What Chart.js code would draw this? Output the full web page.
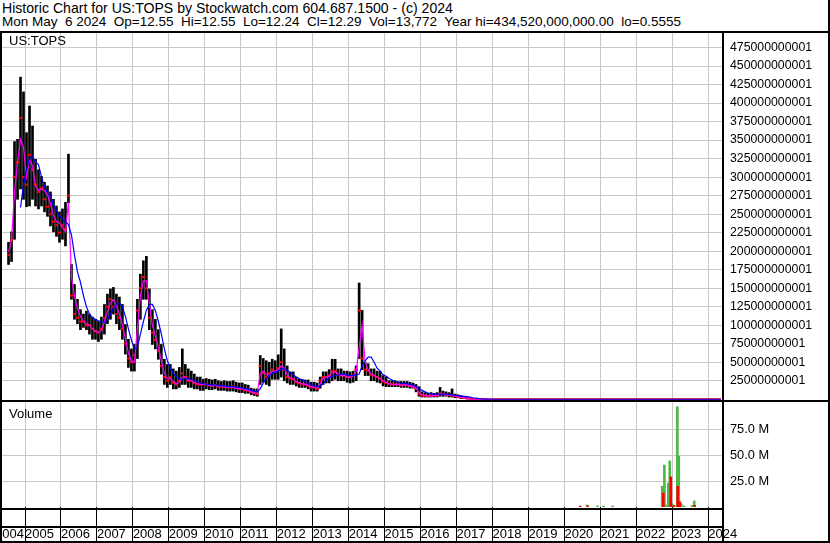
<!DOCTYPE html>
<html lang="en">
<head>
<meta charset="UTF-8">
<title>Historic Chart for US:TOPS</title>
<script src="https://cdn.jsdelivr.net/npm/chart.js"></script>
<style>
html, body { margin: 0; padding: 0; background: #fff; }
body { width: 830px; height: 543px; position: relative; overflow: hidden;
  font-family: "Liberation Sans", Arial, sans-serif; color: #000; }
.hdr { position: absolute; left: 2px; line-height: 13.4px; white-space: pre; }
.lbl { position: absolute; left: 9px; font-size: 13px; line-height: 15px; white-space: pre; }
.rule { position: absolute; background: #000; }
#priceBox { position: absolute; left: 0; top: 33px; }
#volBox { position: absolute; left: 0; top: 402px; }
</style>
</head>
<body>
<div class="hdr" style="top:1.6px;font-size:14.1px">Historic Chart for US:TOPS by Stockwatch.com 604.687.1500 - (c) 2024</div>
<div class="hdr" style="top:15.2px;font-size:13.5px">Mon May  6 2024  Op=12.55  Hi=12.55  Lo=12.24  Cl=12.29  Vol=13,772  Year hi=434,520,000,000.00  lo=0.5555</div>

<div id="priceBox"><canvas id="price" width="830" height="367"></canvas></div>
<div id="volBox"><canvas id="vol" width="830" height="141"></canvas></div>

<div class="lbl" style="top:33px">US:TOPS</div>
<div class="lbl" style="top:406px">Volume</div>

<!-- frame rules -->
<div class="rule" style="left:0;top:31px;width:830px;height:2px"></div>
<div class="rule" style="left:0;top:31px;width:2px;height:512px"></div>
<div class="rule" style="left:828px;top:0;width:2px;height:543px"></div>
<div class="rule" style="left:0;top:541px;width:830px;height:2px"></div>
<div class="rule" style="left:0;top:400px;width:830px;height:2px"></div>
<div class="rule" style="left:722px;top:31px;width:2px;height:512px"></div>
<div class="rule" style="left:0;top:508px;width:723px;height:2px"></div>
<div class="rule" style="left:0;top:526px;width:723px;height:2px"></div>

<script>
// monthly bars, July 2004 .. Dec 2017, prices in billions
const firstYear = 2004, firstMonth = 7;

const hi = [
  212, 226, 348, 351, 435, 415,
  360, 396, 369, 324, 310, 301, 293, 288, 280, 270, 261, 253,
  257, 266, 331, 182, 155, 135, 121, 115, 119, 115, 111, 108,
  105, 111, 128, 142, 149, 151, 142, 138, 128, 101, 81, 68,
  74, 135, 169, 187, 193, 149, 121, 108, 94, 74, 54, 47,
  47, 41, 38, 43, 68, 47, 41, 38, 34, 30, 30, 27,
  28, 27, 26, 27, 25, 24, 25, 24, 24, 25, 23, 22,
  22, 20, 19, 15, 14, 14, 59, 55, 52, 50, 54, 52,
  60, 95, 68, 45, 37, 37, 30, 27, 27, 26, 26, 23,
  23, 22, 30, 37, 37, 40, 54, 54, 41, 41, 38, 38,
  37, 38, 45, 157, 120, 50, 48, 41, 41, 38, 38, 32,
  30, 25, 25, 25, 24, 24, 24, 24, 23, 22, 20, 17,
  10, 9, 8, 9, 8, 9, 16, 11, 10, 9, 14, 7,
  6, 5, 4, 3, 2, 1, 0.5, 0.3, 0.2, 0.1, 0.1, 0.1
];
const lo = [
  182, 186, 216, 270, 284, 270,
  260, 261, 270, 261, 257, 261, 253, 247, 234, 226, 220, 212,
  216, 207, 265, 135, 108, 102, 94, 97, 94, 88, 81, 81,
  78, 81, 88, 102, 108, 115, 102, 94, 81, 61, 43, 38,
  38, 55, 108, 135, 135, 94, 74, 68, 54, 34, 20, 16,
  20, 14, 14, 16, 20, 20, 16, 16, 14, 14, 12, 12,
  14, 13, 13, 14, 12, 12, 12, 11, 11, 11, 10, 9,
  9, 8, 8, 6, 5, 4, 20, 23, 20, 18, 27, 27,
  27, 30, 25, 22, 20, 20, 18, 16, 16, 16, 14, 11,
  11, 11, 15, 20, 22, 22, 25, 27, 25, 25, 25, 23,
  22, 23, 25, 55, 40, 32, 32, 25, 25, 23, 22, 18,
  17, 17, 17, 17, 17, 16, 16, 16, 15, 15, 10, 4,
  3, 3, 3, 3, 3, 3, 4, 4, 4, 3, 3, 2,
  2, 1, 1, 0.5, 0.3, 0.1, 0, 0, 0, 0, 0, 0
];
const close = [
  195, 215, 300, 320, 380, 300,
  290, 330, 310, 290, 280, 285, 270, 260, 250, 240, 235, 225,
  235, 230, 275, 140, 115, 110, 105, 105, 100, 100, 95, 92,
  90, 95, 110, 125, 135, 125, 115, 110, 95, 75, 55, 50,
  60, 120, 150, 165, 150, 110, 90, 80, 65, 45, 30, 25,
  30, 22, 20, 25, 35, 30, 25, 25, 22, 20, 20, 20,
  20, 19, 18, 19, 17, 17, 17, 16, 16, 17, 15, 14,
  14, 12, 12, 10, 8, 7, 45, 35, 30, 35, 40, 38,
  42, 50, 40, 30, 28, 27, 23, 22, 20, 20, 18, 16,
  16, 14, 25, 30, 30, 32, 38, 38, 33, 32, 32, 30,
  30, 32, 40, 120, 55, 40, 38, 33, 32, 30, 28, 24,
  22, 21, 20, 20, 20, 19, 19, 19, 18, 17, 14, 7,
  5, 5, 4, 5, 5, 5, 8, 7, 6, 6, 5, 4,
  3, 2, 2, 1, 0.5, 0.2, 0.1, 0, 0, 0, 0, 0
];
// moving averages as drawn (magenta = fast, blue = slow)
const fastMa = [
  199, 215, 280, 320, 351, 340,
  300, 324, 315, 288, 282, 284, 282, 276, 264, 248, 240, 238,
  232, 226, 266, 165, 140, 122, 112, 105, 102, 100, 95, 92,
  90, 93, 105, 118, 130, 135, 126, 115, 100, 82, 62, 52,
  50, 95, 140, 160, 160, 130, 100, 85, 70, 52, 35, 28,
  28, 24, 21, 23, 30, 30, 26, 25, 23, 21, 20, 20,
  20, 19, 18, 19, 18, 17, 17, 16, 16, 16, 15, 14,
  14, 13, 12, 10, 9, 8, 35, 38, 33, 33, 38, 38,
  40, 45, 42, 33, 29, 27, 24, 22, 21, 20, 19, 17,
  16, 15, 21, 28, 30, 31, 36, 37, 34, 32, 32, 30,
  30, 31, 37, 70, 100, 50, 40, 34, 32, 30, 28, 25,
  23, 21, 20, 20, 20, 19, 19, 19, 18, 17, 15, 9,
  6, 5, 4.5, 4.5, 5, 5, 7, 7, 6, 6, 5.5, 4.5,
  3.5, 2.5, 2, 1.2, 0.6, 0.3, 0.1, 0, 0, 0, 0, 0
];
const slowMa = [
  null, null, null, null, 259, 290,
  310, 325, 328, 320, 317, 300, 287, 279, 274, 262, 255, 248,
  243, 240, 236, 222, 195, 172, 158, 140, 125, 115, 110, 108,
  106, 104, 104, 108, 115, 123, 128, 130, 125, 112, 95, 80,
  68, 70, 88, 105, 120, 128, 128, 120, 105, 88, 68, 52,
  42, 35, 30, 27, 27, 28, 28, 27, 26, 24, 22, 21,
  20, 20, 19, 19, 19, 18, 18, 17, 17, 17, 16, 16,
  15, 14, 14, 12, 11, 10, 14, 22, 28, 32, 35, 37,
  38, 41, 41, 39, 36, 33, 30, 28, 26, 24, 22, 20,
  18, 17, 18, 21, 25, 29, 31, 32, 33, 34, 34, 33,
  32, 32, 33, 34, 45, 52, 57, 57, 50, 42, 38, 33,
  31, 28, 26, 24, 23, 22, 21, 21, 20, 19, 17, 15,
  12, 10, 8.5, 7.5, 7, 7, 7, 7, 7, 6.5, 6, 5.5,
  5, 4.5, 4, 3.5, 3, 2, 1.5, 1, 0.6, 0.3, 0.1, 0
];
// after 2017 the price sits at the floor of this scale
const lateDates = [2018, 2019, 2020, 2021, 2022, 2023, 2024, 2024.35];
const lateClose = [0, 0, 0, 0, 0, 0, 0, 0];

// volume in millions
const volUpDates = [2020.63, 2020.92, 2021.09, 2021.34, 2022.72, 2022.78, 2022.81, 2022.89,
  2022.93, 2023.00, 2023.14, 2023.18, 2023.25, 2023.33, 2023.55, 2023.61];
const volUp = [2.0, 0.5, 1.0, 0.5, 20, 40.5, 2, 23, 44.4, 3, 96.8, 49, 3, 0.8, 1.5, 5.8];
const volDownDates = [2020.44, 2020.65, 2022.75, 2022.96, 2023.05, 2023.15, 2023.21, 2023.62];
const volDown = [0.4, 0.5, 13.5, 29, 1.5, 20, 5, 1.5];

const yearTicks = [2005, 2006, 2007, 2008, 2009, 2010, 2011, 2012, 2013, 2014,
  2015, 2016, 2017, 2018, 2019, 2020, 2021, 2022, 2023, 2024];
const priceTicks = [25000000001, 50000000001, 75000000001, 100000000001, 125000000001,
  150000000001, 175000000001, 200000000001, 225000000001, 250000000001, 275000000001,
  300000000001, 325000000001, 350000000001, 375000000001, 400000000001, 425000000001,
  450000000001, 475000000001];
const volTicks = [25, 50, 75];

const B = 1e9, M = 1e6;
const GRID = '#c8c8c8';
const FONT = '"Liberation Sans", Arial, sans-serif';
const X_MIN = 2004.36, X_MAX = 2024.41;

const monthDate = i => firstYear + (firstMonth - 1 + i + 0.5) / 12;
const pts = (arr, scale) => arr.map((v, i) => ({ x: monthDate(i), y: v === null ? null : v * scale }));

const xBase = {
  type: 'linear', min: X_MIN, max: X_MAX, offset: false,
  grid: { offset: false, color: GRID, lineWidth: 1 },
  border: { display: false },
  afterBuildTicks: s => { s.ticks = yearTicks.map(v => ({ value: v })); }
};
const rightAxisFit = a => { a.width = 107; a.paddingTop = 0; a.paddingBottom = 0; };

new Chart(document.getElementById('price'), {
  type: 'bar',
  data: {
    datasets: [
      { type: 'line', data: pts(slowMa, B).concat(lateDates.map(d => ({ x: d, y: 0 }))),
        borderColor: '#0000ff', borderWidth: 1.2, pointRadius: 0, tension: 0 },
      { type: 'line', data: pts(fastMa, B),
        borderColor: '#ff00ff', borderWidth: 1.2, pointRadius: 0, tension: 0 },
      { type: 'line', data: pts(close, B), showLine: false,
        pointStyle: 'line', pointRadius: 1.6, pointBorderWidth: 2,
        pointBorderColor: '#ff0000', borderColor: '#ff0000' },
      { type: 'line', data: lateDates.map((d, i) => ({ x: d, y: lateClose[i] * B })),
        borderColor: '#ff0000', borderWidth: 2, pointRadius: 0 },
      { type: 'bar', data: hi.map((h, i) => ({ x: monthDate(i), y: [lo[i] * B, h * B] })),
        backgroundColor: '#000000', borderWidth: 0, barThickness: 2, grouped: false }
    ]
  },
  options: {
    responsive: false, animation: false, events: [], devicePixelRatio: 1,
    layout: { autoPadding: false, padding: { left: 2, right: 0, top: 0, bottom: 0 } },
    plugins: { legend: { display: false }, tooltip: { enabled: false } },
    scales: {
      x: Object.assign({}, xBase, {
        ticks: { display: false },
        grid: { offset: false, color: GRID, lineWidth: 1, drawTicks: false },
        afterFit: a => { a.height = 0; a.paddingLeft = 0; a.paddingRight = 0; }
      }),
      y: {
        position: 'right', min: -1e9, max: 494.6e9,
        grid: { color: GRID, lineWidth: 1, drawTicks: false },
        border: { display: false },
        ticks: { color: '#000', padding: 7, font: { family: FONT, size: 12.3 },
          callback: v => v.toFixed(0) },
        afterBuildTicks: s => { s.ticks = priceTicks.map(v => ({ value: v })); },
        afterFit: rightAxisFit
      }
    }
  }
});

const leadYearLabel = {
  id: 'leadYearLabel',
  afterDraw(chart) {
    const x = chart.scales.x;
    const ctx = chart.ctx;
    ctx.save();
    ctx.font = '13px ' + FONT;
    ctx.fillStyle = '#000';
    ctx.textAlign = 'right';
    ctx.textBaseline = 'middle';
    ctx.fillText(String(yearTicks[0] - 1), x.getPixelForValue(yearTicks[0]) - 1, x.top + 36 - 16 + 7.8);
    ctx.restore();
  }
};

new Chart(document.getElementById('vol'), {
  type: 'bar',
  data: {
    datasets: [
      { data: volDownDates.map((d, i) => ({ x: d, y: volDown[i] * M })),
        backgroundColor: '#ff0000', barThickness: 2, grouped: false, minBarLength: 1 },
      { data: volUpDates.map((d, i) => ({ x: d, y: volUp[i] * M })),
        backgroundColor: '#4cb848', barThickness: 2, grouped: false, minBarLength: 1 }
    ]
  },
  options: {
    responsive: false, animation: false, events: [], devicePixelRatio: 1,
    layout: { autoPadding: false, padding: { left: 2, right: 0, top: 0, bottom: 0 } },
    plugins: { legend: { display: false }, tooltip: { enabled: false } },
    scales: {
      x: Object.assign({}, xBase, {
        grid: { offset: false, color: GRID, lineWidth: 1, drawTicks: true,
          tickLength: 36, tickColor: '#000', tickWidth: 1 },
        ticks: { display: true, align: 'start', autoSkip: false, maxRotation: 0,
          color: '#000', padding: -16, font: { family: FONT, size: 13 },
          callback: v => String(v) },
        afterFit: a => { a.height = 36; a.paddingLeft = 0; a.paddingRight = 0; }
      }),
      y: {
        position: 'right', min: 0, max: 101.35 * M,
        grid: { color: GRID, lineWidth: 1, drawTicks: false },
        border: { display: false },
        ticks: { color: '#000', padding: 7, font: { family: FONT, size: 12.8 },
          callback: v => (v / M).toFixed(1) + ' M' },
        afterBuildTicks: s => { s.ticks = volTicks.map(v => ({ value: v * M })); },
        afterFit: rightAxisFit
      }
    }
  },
  plugins: [leadYearLabel]
});
</script>
</body>
</html>
